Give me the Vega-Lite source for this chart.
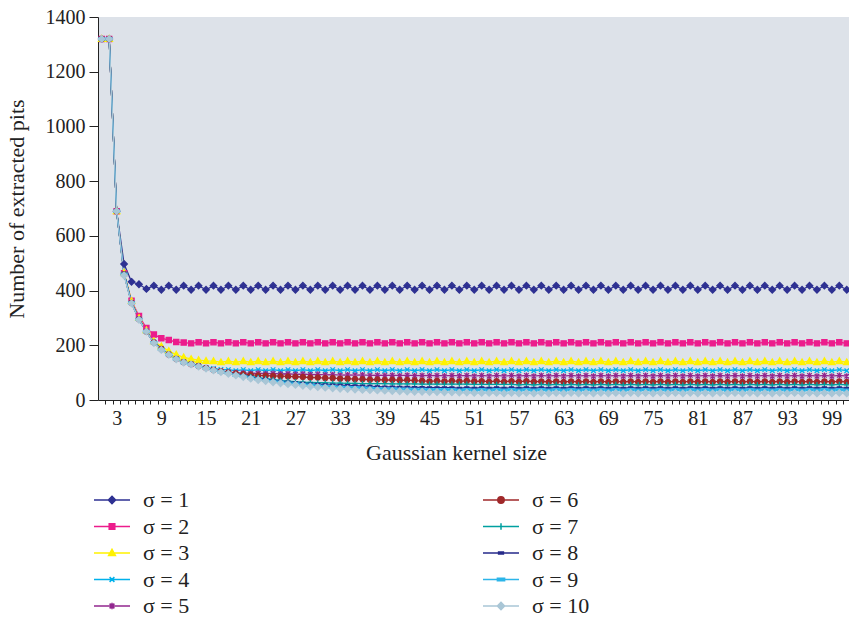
{
"$schema": "https://vega.github.io/schema/vega-lite/v6.json",
"width": 751,
"height": 383,
"autosize": {"type": "none"},
"padding": {"left": 98, "top": 17, "right": 0, "bottom": 218},
"background": "white",
"config": {
  "view": {"stroke": null, "fill": "#dde2e9"},
  "font": "Liberation Serif",
  "axis": {"labelFont": "Liberation Serif", "titleFont": "Liberation Serif", "labelColor": "#222", "titleColor": "#222", "titleFontWeight": "normal", "domainColor": "#222", "tickColor": "#222", "grid": false}
},
"data": {"values": [
{"k":1,"s":1,"n":1320},{"k":2,"s":1,"n":1320},{"k":3,"s":1,"n":690},{"k":4,"s":1,"n":497},{"k":5,"s":1,"n":432},{"k":6,"s":1,"n":423},{"k":7,"s":1,"n":406},{"k":8,"s":1,"n":418},{"k":9,"s":1,"n":403},{"k":10,"s":1,"n":418},
{"k":11,"s":1,"n":403},{"k":12,"s":1,"n":418},{"k":13,"s":1,"n":403},{"k":14,"s":1,"n":418},{"k":15,"s":1,"n":403},{"k":16,"s":1,"n":418},{"k":17,"s":1,"n":403},{"k":18,"s":1,"n":418},{"k":19,"s":1,"n":403},{"k":20,"s":1,"n":418},
{"k":21,"s":1,"n":403},{"k":22,"s":1,"n":418},{"k":23,"s":1,"n":403},{"k":24,"s":1,"n":418},{"k":25,"s":1,"n":403},{"k":26,"s":1,"n":418},{"k":27,"s":1,"n":403},{"k":28,"s":1,"n":418},{"k":29,"s":1,"n":403},{"k":30,"s":1,"n":418},
{"k":31,"s":1,"n":403},{"k":32,"s":1,"n":418},{"k":33,"s":1,"n":403},{"k":34,"s":1,"n":418},{"k":35,"s":1,"n":403},{"k":36,"s":1,"n":418},{"k":37,"s":1,"n":403},{"k":38,"s":1,"n":418},{"k":39,"s":1,"n":403},{"k":40,"s":1,"n":418},
{"k":41,"s":1,"n":403},{"k":42,"s":1,"n":418},{"k":43,"s":1,"n":403},{"k":44,"s":1,"n":418},{"k":45,"s":1,"n":403},{"k":46,"s":1,"n":418},{"k":47,"s":1,"n":403},{"k":48,"s":1,"n":418},{"k":49,"s":1,"n":403},{"k":50,"s":1,"n":418},
{"k":51,"s":1,"n":403},{"k":52,"s":1,"n":418},{"k":53,"s":1,"n":403},{"k":54,"s":1,"n":418},{"k":55,"s":1,"n":403},{"k":56,"s":1,"n":418},{"k":57,"s":1,"n":403},{"k":58,"s":1,"n":418},{"k":59,"s":1,"n":403},{"k":60,"s":1,"n":418},
{"k":61,"s":1,"n":403},{"k":62,"s":1,"n":418},{"k":63,"s":1,"n":403},{"k":64,"s":1,"n":418},{"k":65,"s":1,"n":403},{"k":66,"s":1,"n":418},{"k":67,"s":1,"n":403},{"k":68,"s":1,"n":418},{"k":69,"s":1,"n":403},{"k":70,"s":1,"n":418},
{"k":71,"s":1,"n":403},{"k":72,"s":1,"n":418},{"k":73,"s":1,"n":403},{"k":74,"s":1,"n":418},{"k":75,"s":1,"n":403},{"k":76,"s":1,"n":418},{"k":77,"s":1,"n":403},{"k":78,"s":1,"n":418},{"k":79,"s":1,"n":403},{"k":80,"s":1,"n":418},
{"k":81,"s":1,"n":403},{"k":82,"s":1,"n":418},{"k":83,"s":1,"n":403},{"k":84,"s":1,"n":418},{"k":85,"s":1,"n":403},{"k":86,"s":1,"n":418},{"k":87,"s":1,"n":403},{"k":88,"s":1,"n":418},{"k":89,"s":1,"n":403},{"k":90,"s":1,"n":418},
{"k":91,"s":1,"n":403},{"k":92,"s":1,"n":418},{"k":93,"s":1,"n":403},{"k":94,"s":1,"n":418},{"k":95,"s":1,"n":403},{"k":96,"s":1,"n":418},{"k":97,"s":1,"n":403},{"k":98,"s":1,"n":418},{"k":99,"s":1,"n":403},{"k":100,"s":1,"n":418},{"k":101,"s":1,"n":403},

{"k":1,"s":2,"n":1320},{"k":2,"s":2,"n":1320},{"k":3,"s":2,"n":690},{"k":4,"s":2,"n":463},{"k":5,"s":2,"n":363},{"k":6,"s":2,"n":307},{"k":7,"s":2,"n":263},{"k":8,"s":2,"n":239},{"k":9,"s":2,"n":226},{"k":10,"s":2,"n":219},
{"k":11,"s":2,"n":212},{"k":12,"s":2,"n":210},{"k":13,"s":2,"n":207},{"k":14,"s":2,"n":211},{"k":15,"s":2,"n":207},{"k":16,"s":2,"n":211},{"k":17,"s":2,"n":207},{"k":18,"s":2,"n":211},{"k":19,"s":2,"n":207},{"k":20,"s":2,"n":211},
{"k":21,"s":2,"n":207},{"k":22,"s":2,"n":211},{"k":23,"s":2,"n":207},{"k":24,"s":2,"n":211},{"k":25,"s":2,"n":207},{"k":26,"s":2,"n":211},{"k":27,"s":2,"n":207},{"k":28,"s":2,"n":211},{"k":29,"s":2,"n":207},{"k":30,"s":2,"n":211},
{"k":31,"s":2,"n":207},{"k":32,"s":2,"n":211},{"k":33,"s":2,"n":207},{"k":34,"s":2,"n":211},{"k":35,"s":2,"n":207},{"k":36,"s":2,"n":211},{"k":37,"s":2,"n":207},{"k":38,"s":2,"n":211},{"k":39,"s":2,"n":207},{"k":40,"s":2,"n":211},
{"k":41,"s":2,"n":207},{"k":42,"s":2,"n":211},{"k":43,"s":2,"n":207},{"k":44,"s":2,"n":211},{"k":45,"s":2,"n":207},{"k":46,"s":2,"n":211},{"k":47,"s":2,"n":207},{"k":48,"s":2,"n":211},{"k":49,"s":2,"n":207},{"k":50,"s":2,"n":211},
{"k":51,"s":2,"n":207},{"k":52,"s":2,"n":211},{"k":53,"s":2,"n":207},{"k":54,"s":2,"n":211},{"k":55,"s":2,"n":207},{"k":56,"s":2,"n":211},{"k":57,"s":2,"n":207},{"k":58,"s":2,"n":211},{"k":59,"s":2,"n":207},{"k":60,"s":2,"n":211},
{"k":61,"s":2,"n":207},{"k":62,"s":2,"n":211},{"k":63,"s":2,"n":207},{"k":64,"s":2,"n":211},{"k":65,"s":2,"n":207},{"k":66,"s":2,"n":211},{"k":67,"s":2,"n":207},{"k":68,"s":2,"n":211},{"k":69,"s":2,"n":207},{"k":70,"s":2,"n":211},
{"k":71,"s":2,"n":207},{"k":72,"s":2,"n":211},{"k":73,"s":2,"n":207},{"k":74,"s":2,"n":211},{"k":75,"s":2,"n":207},{"k":76,"s":2,"n":211},{"k":77,"s":2,"n":207},{"k":78,"s":2,"n":211},{"k":79,"s":2,"n":207},{"k":80,"s":2,"n":211},
{"k":81,"s":2,"n":207},{"k":82,"s":2,"n":211},{"k":83,"s":2,"n":207},{"k":84,"s":2,"n":211},{"k":85,"s":2,"n":207},{"k":86,"s":2,"n":211},{"k":87,"s":2,"n":207},{"k":88,"s":2,"n":211},{"k":89,"s":2,"n":207},{"k":90,"s":2,"n":211},
{"k":91,"s":2,"n":207},{"k":92,"s":2,"n":211},{"k":93,"s":2,"n":207},{"k":94,"s":2,"n":211},{"k":95,"s":2,"n":207},{"k":96,"s":2,"n":211},{"k":97,"s":2,"n":207},{"k":98,"s":2,"n":211},{"k":99,"s":2,"n":207},{"k":100,"s":2,"n":211},{"k":101,"s":2,"n":207},

{"k":1,"s":3,"n":1320},{"k":2,"s":3,"n":1320},{"k":3,"s":3,"n":690},{"k":4,"s":3,"n":465},{"k":5,"s":3,"n":362},{"k":6,"s":3,"n":300},{"k":7,"s":3,"n":255},{"k":8,"s":3,"n":215},{"k":9,"s":3,"n":196},{"k":10,"s":3,"n":179},
{"k":11,"s":3,"n":166},{"k":12,"s":3,"n":156},{"k":13,"s":3,"n":150},{"k":14,"s":3,"n":146},{"k":15,"s":3,"n":143},{"k":16,"s":3,"n":142},{"k":17,"s":3,"n":138},{"k":18,"s":3,"n":142},{"k":19,"s":3,"n":138},{"k":20,"s":3,"n":142},
{"k":21,"s":3,"n":138},{"k":22,"s":3,"n":142},{"k":23,"s":3,"n":138},{"k":24,"s":3,"n":142},{"k":25,"s":3,"n":138},{"k":26,"s":3,"n":142},{"k":27,"s":3,"n":138},{"k":28,"s":3,"n":142},{"k":29,"s":3,"n":138},{"k":30,"s":3,"n":142},
{"k":31,"s":3,"n":138},{"k":32,"s":3,"n":142},{"k":33,"s":3,"n":138},{"k":34,"s":3,"n":142},{"k":35,"s":3,"n":138},{"k":36,"s":3,"n":142},{"k":37,"s":3,"n":138},{"k":38,"s":3,"n":142},{"k":39,"s":3,"n":138},{"k":40,"s":3,"n":142},
{"k":41,"s":3,"n":138},{"k":42,"s":3,"n":142},{"k":43,"s":3,"n":138},{"k":44,"s":3,"n":142},{"k":45,"s":3,"n":138},{"k":46,"s":3,"n":142},{"k":47,"s":3,"n":138},{"k":48,"s":3,"n":142},{"k":49,"s":3,"n":138},{"k":50,"s":3,"n":142},
{"k":51,"s":3,"n":138},{"k":52,"s":3,"n":142},{"k":53,"s":3,"n":138},{"k":54,"s":3,"n":142},{"k":55,"s":3,"n":138},{"k":56,"s":3,"n":142},{"k":57,"s":3,"n":138},{"k":58,"s":3,"n":142},{"k":59,"s":3,"n":138},{"k":60,"s":3,"n":142},
{"k":61,"s":3,"n":138},{"k":62,"s":3,"n":142},{"k":63,"s":3,"n":138},{"k":64,"s":3,"n":142},{"k":65,"s":3,"n":138},{"k":66,"s":3,"n":142},{"k":67,"s":3,"n":138},{"k":68,"s":3,"n":142},{"k":69,"s":3,"n":138},{"k":70,"s":3,"n":142},
{"k":71,"s":3,"n":138},{"k":72,"s":3,"n":142},{"k":73,"s":3,"n":138},{"k":74,"s":3,"n":142},{"k":75,"s":3,"n":138},{"k":76,"s":3,"n":142},{"k":77,"s":3,"n":138},{"k":78,"s":3,"n":142},{"k":79,"s":3,"n":138},{"k":80,"s":3,"n":142},
{"k":81,"s":3,"n":138},{"k":82,"s":3,"n":142},{"k":83,"s":3,"n":138},{"k":84,"s":3,"n":142},{"k":85,"s":3,"n":138},{"k":86,"s":3,"n":142},{"k":87,"s":3,"n":138},{"k":88,"s":3,"n":142},{"k":89,"s":3,"n":138},{"k":90,"s":3,"n":142},
{"k":91,"s":3,"n":138},{"k":92,"s":3,"n":142},{"k":93,"s":3,"n":138},{"k":94,"s":3,"n":142},{"k":95,"s":3,"n":138},{"k":96,"s":3,"n":142},{"k":97,"s":3,"n":138},{"k":98,"s":3,"n":142},{"k":99,"s":3,"n":138},{"k":100,"s":3,"n":142},{"k":101,"s":3,"n":138},

{"k":1,"s":4,"n":1320},{"k":2,"s":4,"n":1320},{"k":3,"s":4,"n":690},{"k":4,"s":4,"n":462},{"k":5,"s":4,"n":357},{"k":6,"s":4,"n":297},{"k":7,"s":4,"n":252},{"k":8,"s":4,"n":212},{"k":9,"s":4,"n":188},{"k":10,"s":4,"n":168},
{"k":11,"s":4,"n":152},{"k":12,"s":4,"n":140},{"k":13,"s":4,"n":132},{"k":14,"s":4,"n":125},{"k":15,"s":4,"n":119},{"k":16,"s":4,"n":115},{"k":17,"s":4,"n":112},{"k":18,"s":4,"n":111},{"k":19,"s":4,"n":107},{"k":20,"s":4,"n":111},
{"k":21,"s":4,"n":107},{"k":22,"s":4,"n":111},{"k":23,"s":4,"n":107},{"k":24,"s":4,"n":111},{"k":25,"s":4,"n":107},{"k":26,"s":4,"n":111},{"k":27,"s":4,"n":107},{"k":28,"s":4,"n":111},{"k":29,"s":4,"n":107},{"k":30,"s":4,"n":111},
{"k":31,"s":4,"n":107},{"k":32,"s":4,"n":111},{"k":33,"s":4,"n":107},{"k":34,"s":4,"n":111},{"k":35,"s":4,"n":107},{"k":36,"s":4,"n":111},{"k":37,"s":4,"n":107},{"k":38,"s":4,"n":111},{"k":39,"s":4,"n":107},{"k":40,"s":4,"n":111},
{"k":41,"s":4,"n":107},{"k":42,"s":4,"n":111},{"k":43,"s":4,"n":107},{"k":44,"s":4,"n":111},{"k":45,"s":4,"n":107},{"k":46,"s":4,"n":111},{"k":47,"s":4,"n":107},{"k":48,"s":4,"n":111},{"k":49,"s":4,"n":107},{"k":50,"s":4,"n":111},
{"k":51,"s":4,"n":107},{"k":52,"s":4,"n":111},{"k":53,"s":4,"n":107},{"k":54,"s":4,"n":111},{"k":55,"s":4,"n":107},{"k":56,"s":4,"n":111},{"k":57,"s":4,"n":107},{"k":58,"s":4,"n":111},{"k":59,"s":4,"n":107},{"k":60,"s":4,"n":111},
{"k":61,"s":4,"n":107},{"k":62,"s":4,"n":111},{"k":63,"s":4,"n":107},{"k":64,"s":4,"n":111},{"k":65,"s":4,"n":107},{"k":66,"s":4,"n":111},{"k":67,"s":4,"n":107},{"k":68,"s":4,"n":111},{"k":69,"s":4,"n":107},{"k":70,"s":4,"n":111},
{"k":71,"s":4,"n":107},{"k":72,"s":4,"n":111},{"k":73,"s":4,"n":107},{"k":74,"s":4,"n":111},{"k":75,"s":4,"n":107},{"k":76,"s":4,"n":111},{"k":77,"s":4,"n":107},{"k":78,"s":4,"n":111},{"k":79,"s":4,"n":107},{"k":80,"s":4,"n":111},
{"k":81,"s":4,"n":107},{"k":82,"s":4,"n":111},{"k":83,"s":4,"n":107},{"k":84,"s":4,"n":111},{"k":85,"s":4,"n":107},{"k":86,"s":4,"n":111},{"k":87,"s":4,"n":107},{"k":88,"s":4,"n":111},{"k":89,"s":4,"n":107},{"k":90,"s":4,"n":111},
{"k":91,"s":4,"n":107},{"k":92,"s":4,"n":111},{"k":93,"s":4,"n":107},{"k":94,"s":4,"n":111},{"k":95,"s":4,"n":107},{"k":96,"s":4,"n":111},{"k":97,"s":4,"n":107},{"k":98,"s":4,"n":111},{"k":99,"s":4,"n":107},{"k":100,"s":4,"n":111},{"k":101,"s":4,"n":107},

{"k":1,"s":5,"n":1320},{"k":2,"s":5,"n":1320},{"k":3,"s":5,"n":690},{"k":4,"s":5,"n":461},{"k":5,"s":5,"n":356},{"k":6,"s":5,"n":296},{"k":7,"s":5,"n":251},{"k":8,"s":5,"n":211},{"k":9,"s":5,"n":187},{"k":10,"s":5,"n":167},
{"k":11,"s":5,"n":151},{"k":12,"s":5,"n":139},{"k":13,"s":5,"n":131},{"k":14,"s":5,"n":124},{"k":15,"s":5,"n":117},{"k":16,"s":5,"n":111},{"k":17,"s":5,"n":106},{"k":18,"s":5,"n":102},{"k":19,"s":5,"n":100},{"k":20,"s":5,"n":99},
{"k":21,"s":5,"n":97},{"k":22,"s":5,"n":98},{"k":23,"s":5,"n":96},{"k":24,"s":5,"n":97},{"k":25,"s":5,"n":95},{"k":26,"s":5,"n":96},{"k":27,"s":5,"n":94},{"k":28,"s":5,"n":95},{"k":29,"s":5,"n":93},{"k":30,"s":5,"n":94},
{"k":31,"s":5,"n":92},{"k":32,"s":5,"n":93},{"k":33,"s":5,"n":91},{"k":34,"s":5,"n":92},{"k":35,"s":5,"n":91},{"k":36,"s":5,"n":92},{"k":37,"s":5,"n":90},{"k":38,"s":5,"n":91},{"k":39,"s":5,"n":90},{"k":40,"s":5,"n":91},
{"k":41,"s":5,"n":89},{"k":42,"s":5,"n":91},{"k":43,"s":5,"n":89},{"k":44,"s":5,"n":90},{"k":45,"s":5,"n":89},{"k":46,"s":5,"n":90},{"k":47,"s":5,"n":88},{"k":48,"s":5,"n":90},{"k":49,"s":5,"n":88},{"k":50,"s":5,"n":90},
{"k":51,"s":5,"n":87},{"k":52,"s":5,"n":90},{"k":53,"s":5,"n":87},{"k":54,"s":5,"n":90},{"k":55,"s":5,"n":87},{"k":56,"s":5,"n":90},{"k":57,"s":5,"n":87},{"k":58,"s":5,"n":90},{"k":59,"s":5,"n":87},{"k":60,"s":5,"n":90},
{"k":61,"s":5,"n":87},{"k":62,"s":5,"n":90},{"k":63,"s":5,"n":87},{"k":64,"s":5,"n":90},{"k":65,"s":5,"n":87},{"k":66,"s":5,"n":90},{"k":67,"s":5,"n":87},{"k":68,"s":5,"n":90},{"k":69,"s":5,"n":87},{"k":70,"s":5,"n":90},
{"k":71,"s":5,"n":87},{"k":72,"s":5,"n":90},{"k":73,"s":5,"n":87},{"k":74,"s":5,"n":90},{"k":75,"s":5,"n":87},{"k":76,"s":5,"n":90},{"k":77,"s":5,"n":87},{"k":78,"s":5,"n":90},{"k":79,"s":5,"n":87},{"k":80,"s":5,"n":90},
{"k":81,"s":5,"n":87},{"k":82,"s":5,"n":90},{"k":83,"s":5,"n":87},{"k":84,"s":5,"n":90},{"k":85,"s":5,"n":87},{"k":86,"s":5,"n":90},{"k":87,"s":5,"n":87},{"k":88,"s":5,"n":90},{"k":89,"s":5,"n":87},{"k":90,"s":5,"n":90},
{"k":91,"s":5,"n":87},{"k":92,"s":5,"n":90},{"k":93,"s":5,"n":87},{"k":94,"s":5,"n":90},{"k":95,"s":5,"n":87},{"k":96,"s":5,"n":90},{"k":97,"s":5,"n":87},{"k":98,"s":5,"n":90},{"k":99,"s":5,"n":87},{"k":100,"s":5,"n":90},{"k":101,"s":5,"n":87},

{"k":1,"s":6,"n":1320},{"k":2,"s":6,"n":1320},{"k":3,"s":6,"n":690},{"k":4,"s":6,"n":460},{"k":5,"s":6,"n":355},{"k":6,"s":6,"n":295},{"k":7,"s":6,"n":250},{"k":8,"s":6,"n":210},{"k":9,"s":6,"n":186},{"k":10,"s":6,"n":166},
{"k":11,"s":6,"n":150},{"k":12,"s":6,"n":138},{"k":13,"s":6,"n":131},{"k":14,"s":6,"n":124},{"k":15,"s":6,"n":117},{"k":16,"s":6,"n":110},{"k":17,"s":6,"n":105},{"k":18,"s":6,"n":100},{"k":19,"s":6,"n":97},{"k":20,"s":6,"n":94},
{"k":21,"s":6,"n":92},{"k":22,"s":6,"n":90},{"k":23,"s":6,"n":89},{"k":24,"s":6,"n":88},{"k":25,"s":6,"n":87},{"k":26,"s":6,"n":86},{"k":27,"s":6,"n":85},{"k":28,"s":6,"n":84},{"k":29,"s":6,"n":82},{"k":30,"s":6,"n":82},
{"k":31,"s":6,"n":80},{"k":32,"s":6,"n":80},{"k":33,"s":6,"n":78},{"k":34,"s":6,"n":78},{"k":35,"s":6,"n":76},{"k":36,"s":6,"n":76},{"k":37,"s":6,"n":74},{"k":38,"s":6,"n":75},{"k":39,"s":6,"n":73},{"k":40,"s":6,"n":74},
{"k":41,"s":6,"n":72},{"k":42,"s":6,"n":73},{"k":43,"s":6,"n":71},{"k":44,"s":6,"n":70},{"k":45,"s":6,"n":68},{"k":46,"s":6,"n":70},{"k":47,"s":6,"n":68},{"k":48,"s":6,"n":70},{"k":49,"s":6,"n":68},{"k":50,"s":6,"n":70},
{"k":51,"s":6,"n":68},{"k":52,"s":6,"n":69},{"k":53,"s":6,"n":67},{"k":54,"s":6,"n":69},{"k":55,"s":6,"n":67},{"k":56,"s":6,"n":69},{"k":57,"s":6,"n":67},{"k":58,"s":6,"n":69},{"k":59,"s":6,"n":67},{"k":60,"s":6,"n":68},
{"k":61,"s":6,"n":66},{"k":62,"s":6,"n":68},{"k":63,"s":6,"n":66},{"k":64,"s":6,"n":68},{"k":65,"s":6,"n":66},{"k":66,"s":6,"n":68},{"k":67,"s":6,"n":66},{"k":68,"s":6,"n":68},{"k":69,"s":6,"n":66},{"k":70,"s":6,"n":68},
{"k":71,"s":6,"n":66},{"k":72,"s":6,"n":68},{"k":73,"s":6,"n":66},{"k":74,"s":6,"n":68},{"k":75,"s":6,"n":66},{"k":76,"s":6,"n":68},{"k":77,"s":6,"n":66},{"k":78,"s":6,"n":68},{"k":79,"s":6,"n":66},{"k":80,"s":6,"n":68},
{"k":81,"s":6,"n":66},{"k":82,"s":6,"n":68},{"k":83,"s":6,"n":66},{"k":84,"s":6,"n":68},{"k":85,"s":6,"n":66},{"k":86,"s":6,"n":68},{"k":87,"s":6,"n":66},{"k":88,"s":6,"n":68},{"k":89,"s":6,"n":66},{"k":90,"s":6,"n":68},
{"k":91,"s":6,"n":66},{"k":92,"s":6,"n":68},{"k":93,"s":6,"n":66},{"k":94,"s":6,"n":68},{"k":95,"s":6,"n":66},{"k":96,"s":6,"n":68},{"k":97,"s":6,"n":66},{"k":98,"s":6,"n":68},{"k":99,"s":6,"n":66},{"k":100,"s":6,"n":68},{"k":101,"s":6,"n":66},

{"k":1,"s":7,"n":1320},{"k":2,"s":7,"n":1320},{"k":3,"s":7,"n":690},{"k":4,"s":7,"n":460},{"k":5,"s":7,"n":355},{"k":6,"s":7,"n":295},{"k":7,"s":7,"n":250},{"k":8,"s":7,"n":210},{"k":9,"s":7,"n":185},{"k":10,"s":7,"n":166},
{"k":11,"s":7,"n":150},{"k":12,"s":7,"n":138},{"k":13,"s":7,"n":131},{"k":14,"s":7,"n":123},{"k":15,"s":7,"n":116},{"k":16,"s":7,"n":110},{"k":17,"s":7,"n":104},{"k":18,"s":7,"n":99},{"k":19,"s":7,"n":94},{"k":20,"s":7,"n":90},
{"k":21,"s":7,"n":86},{"k":22,"s":7,"n":82},{"k":23,"s":7,"n":78},{"k":24,"s":7,"n":75},{"k":25,"s":7,"n":72},{"k":26,"s":7,"n":69},{"k":27,"s":7,"n":67},{"k":28,"s":7,"n":65},{"k":29,"s":7,"n":64},{"k":30,"s":7,"n":63},
{"k":31,"s":7,"n":63},{"k":32,"s":7,"n":62},{"k":33,"s":7,"n":62},{"k":34,"s":7,"n":61},{"k":35,"s":7,"n":61},{"k":36,"s":7,"n":60},{"k":37,"s":7,"n":60},{"k":38,"s":7,"n":60},{"k":39,"s":7,"n":60},{"k":40,"s":7,"n":59},
{"k":41,"s":7,"n":59},{"k":42,"s":7,"n":59},{"k":43,"s":7,"n":59},{"k":44,"s":7,"n":58},{"k":45,"s":7,"n":58},{"k":46,"s":7,"n":58},{"k":47,"s":7,"n":58},{"k":48,"s":7,"n":58},{"k":49,"s":7,"n":58},{"k":50,"s":7,"n":58},
{"k":51,"s":7,"n":57},{"k":52,"s":7,"n":57},{"k":53,"s":7,"n":57},{"k":54,"s":7,"n":57},{"k":55,"s":7,"n":57},{"k":56,"s":7,"n":57},{"k":57,"s":7,"n":55},{"k":58,"s":7,"n":57},{"k":59,"s":7,"n":55},{"k":60,"s":7,"n":57},
{"k":61,"s":7,"n":55},{"k":62,"s":7,"n":57},{"k":63,"s":7,"n":55},{"k":64,"s":7,"n":57},{"k":65,"s":7,"n":55},{"k":66,"s":7,"n":57},{"k":67,"s":7,"n":55},{"k":68,"s":7,"n":57},{"k":69,"s":7,"n":55},{"k":70,"s":7,"n":57},
{"k":71,"s":7,"n":55},{"k":72,"s":7,"n":57},{"k":73,"s":7,"n":55},{"k":74,"s":7,"n":57},{"k":75,"s":7,"n":55},{"k":76,"s":7,"n":57},{"k":77,"s":7,"n":55},{"k":78,"s":7,"n":57},{"k":79,"s":7,"n":55},{"k":80,"s":7,"n":57},
{"k":81,"s":7,"n":55},{"k":82,"s":7,"n":57},{"k":83,"s":7,"n":55},{"k":84,"s":7,"n":57},{"k":85,"s":7,"n":55},{"k":86,"s":7,"n":57},{"k":87,"s":7,"n":55},{"k":88,"s":7,"n":57},{"k":89,"s":7,"n":55},{"k":90,"s":7,"n":57},
{"k":91,"s":7,"n":55},{"k":92,"s":7,"n":57},{"k":93,"s":7,"n":55},{"k":94,"s":7,"n":57},{"k":95,"s":7,"n":55},{"k":96,"s":7,"n":57},{"k":97,"s":7,"n":55},{"k":98,"s":7,"n":57},{"k":99,"s":7,"n":55},{"k":100,"s":7,"n":57},{"k":101,"s":7,"n":55},

{"k":1,"s":8,"n":1320},{"k":2,"s":8,"n":1320},{"k":3,"s":8,"n":690},{"k":4,"s":8,"n":460},{"k":5,"s":8,"n":355},{"k":6,"s":8,"n":295},{"k":7,"s":8,"n":250},{"k":8,"s":8,"n":210},{"k":9,"s":8,"n":185},{"k":10,"s":8,"n":166},
{"k":11,"s":8,"n":150},{"k":12,"s":8,"n":138},{"k":13,"s":8,"n":130},{"k":14,"s":8,"n":123},{"k":15,"s":8,"n":116},{"k":16,"s":8,"n":109},{"k":17,"s":8,"n":103},{"k":18,"s":8,"n":98},{"k":19,"s":8,"n":92},{"k":20,"s":8,"n":88},
{"k":21,"s":8,"n":84},{"k":22,"s":8,"n":80},{"k":23,"s":8,"n":76},{"k":24,"s":8,"n":72},{"k":25,"s":8,"n":69},{"k":26,"s":8,"n":66},{"k":27,"s":8,"n":63},{"k":28,"s":8,"n":61},{"k":29,"s":8,"n":59},{"k":30,"s":8,"n":58},
{"k":31,"s":8,"n":56},{"k":32,"s":8,"n":55},{"k":33,"s":8,"n":54},{"k":34,"s":8,"n":53},{"k":35,"s":8,"n":52},{"k":36,"s":8,"n":51},{"k":37,"s":8,"n":50},{"k":38,"s":8,"n":49},{"k":39,"s":8,"n":48},{"k":40,"s":8,"n":48},
{"k":41,"s":8,"n":47},{"k":42,"s":8,"n":47},{"k":43,"s":8,"n":46},{"k":44,"s":8,"n":46},{"k":45,"s":8,"n":45},{"k":46,"s":8,"n":45},{"k":47,"s":8,"n":45},{"k":48,"s":8,"n":45},{"k":49,"s":8,"n":43},{"k":50,"s":8,"n":45},
{"k":51,"s":8,"n":43},{"k":52,"s":8,"n":45},{"k":53,"s":8,"n":43},{"k":54,"s":8,"n":45},{"k":55,"s":8,"n":43},{"k":56,"s":8,"n":45},{"k":57,"s":8,"n":43},{"k":58,"s":8,"n":45},{"k":59,"s":8,"n":43},{"k":60,"s":8,"n":45},
{"k":61,"s":8,"n":43},{"k":62,"s":8,"n":45},{"k":63,"s":8,"n":43},{"k":64,"s":8,"n":45},{"k":65,"s":8,"n":43},{"k":66,"s":8,"n":45},{"k":67,"s":8,"n":43},{"k":68,"s":8,"n":45},{"k":69,"s":8,"n":43},{"k":70,"s":8,"n":45},
{"k":71,"s":8,"n":43},{"k":72,"s":8,"n":45},{"k":73,"s":8,"n":43},{"k":74,"s":8,"n":45},{"k":75,"s":8,"n":43},{"k":76,"s":8,"n":45},{"k":77,"s":8,"n":43},{"k":78,"s":8,"n":45},{"k":79,"s":8,"n":43},{"k":80,"s":8,"n":45},
{"k":81,"s":8,"n":43},{"k":82,"s":8,"n":45},{"k":83,"s":8,"n":43},{"k":84,"s":8,"n":45},{"k":85,"s":8,"n":43},{"k":86,"s":8,"n":45},{"k":87,"s":8,"n":43},{"k":88,"s":8,"n":45},{"k":89,"s":8,"n":43},{"k":90,"s":8,"n":45},
{"k":91,"s":8,"n":43},{"k":92,"s":8,"n":45},{"k":93,"s":8,"n":43},{"k":94,"s":8,"n":45},{"k":95,"s":8,"n":43},{"k":96,"s":8,"n":45},{"k":97,"s":8,"n":43},{"k":98,"s":8,"n":45},{"k":99,"s":8,"n":43},{"k":100,"s":8,"n":45},{"k":101,"s":8,"n":43},

{"k":1,"s":9,"n":1320},{"k":2,"s":9,"n":1320},{"k":3,"s":9,"n":690},{"k":4,"s":9,"n":460},{"k":5,"s":9,"n":355},{"k":6,"s":9,"n":295},{"k":7,"s":9,"n":250},{"k":8,"s":9,"n":210},{"k":9,"s":9,"n":185},{"k":10,"s":9,"n":166},
{"k":11,"s":9,"n":150},{"k":12,"s":9,"n":137},{"k":13,"s":9,"n":130},{"k":14,"s":9,"n":123},{"k":15,"s":9,"n":116},{"k":16,"s":9,"n":109},{"k":17,"s":9,"n":103},{"k":18,"s":9,"n":97},{"k":19,"s":9,"n":91},{"k":20,"s":9,"n":86},
{"k":21,"s":9,"n":81},{"k":22,"s":9,"n":76},{"k":23,"s":9,"n":72},{"k":24,"s":9,"n":68},{"k":25,"s":9,"n":65},{"k":26,"s":9,"n":62},{"k":27,"s":9,"n":59},{"k":28,"s":9,"n":56},{"k":29,"s":9,"n":54},{"k":30,"s":9,"n":52},
{"k":31,"s":9,"n":50},{"k":32,"s":9,"n":49},{"k":33,"s":9,"n":47},{"k":34,"s":9,"n":46},{"k":35,"s":9,"n":45},{"k":36,"s":9,"n":44},{"k":37,"s":9,"n":43},{"k":38,"s":9,"n":42},{"k":39,"s":9,"n":41},{"k":40,"s":9,"n":41},
{"k":41,"s":9,"n":40},{"k":42,"s":9,"n":40},{"k":43,"s":9,"n":39},{"k":44,"s":9,"n":39},{"k":45,"s":9,"n":38},{"k":46,"s":9,"n":38},{"k":47,"s":9,"n":38},{"k":48,"s":9,"n":38},{"k":49,"s":9,"n":36},{"k":50,"s":9,"n":38},
{"k":51,"s":9,"n":36},{"k":52,"s":9,"n":38},{"k":53,"s":9,"n":36},{"k":54,"s":9,"n":38},{"k":55,"s":9,"n":36},{"k":56,"s":9,"n":38},{"k":57,"s":9,"n":36},{"k":58,"s":9,"n":38},{"k":59,"s":9,"n":36},{"k":60,"s":9,"n":38},
{"k":61,"s":9,"n":36},{"k":62,"s":9,"n":38},{"k":63,"s":9,"n":36},{"k":64,"s":9,"n":38},{"k":65,"s":9,"n":36},{"k":66,"s":9,"n":38},{"k":67,"s":9,"n":36},{"k":68,"s":9,"n":38},{"k":69,"s":9,"n":36},{"k":70,"s":9,"n":38},
{"k":71,"s":9,"n":36},{"k":72,"s":9,"n":38},{"k":73,"s":9,"n":36},{"k":74,"s":9,"n":38},{"k":75,"s":9,"n":36},{"k":76,"s":9,"n":38},{"k":77,"s":9,"n":36},{"k":78,"s":9,"n":38},{"k":79,"s":9,"n":36},{"k":80,"s":9,"n":38},
{"k":81,"s":9,"n":36},{"k":82,"s":9,"n":38},{"k":83,"s":9,"n":36},{"k":84,"s":9,"n":38},{"k":85,"s":9,"n":36},{"k":86,"s":9,"n":38},{"k":87,"s":9,"n":36},{"k":88,"s":9,"n":38},{"k":89,"s":9,"n":36},{"k":90,"s":9,"n":38},
{"k":91,"s":9,"n":36},{"k":92,"s":9,"n":38},{"k":93,"s":9,"n":36},{"k":94,"s":9,"n":38},{"k":95,"s":9,"n":36},{"k":96,"s":9,"n":38},{"k":97,"s":9,"n":36},{"k":98,"s":9,"n":38},{"k":99,"s":9,"n":36},{"k":100,"s":9,"n":38},{"k":101,"s":9,"n":36},

{"k":1,"s":10,"n":1320},{"k":2,"s":10,"n":1320},{"k":3,"s":10,"n":690},{"k":4,"s":10,"n":455},{"k":5,"s":10,"n":353},{"k":6,"s":10,"n":293},{"k":7,"s":10,"n":250},{"k":8,"s":10,"n":208},{"k":9,"s":10,"n":183},{"k":10,"s":10,"n":165},
{"k":11,"s":10,"n":149},{"k":12,"s":10,"n":137},{"k":13,"s":10,"n":130},{"k":14,"s":10,"n":122},{"k":15,"s":10,"n":115},{"k":16,"s":10,"n":108},{"k":17,"s":10,"n":102},{"k":18,"s":10,"n":96},{"k":19,"s":10,"n":90},{"k":20,"s":10,"n":84},
{"k":21,"s":10,"n":78},{"k":22,"s":10,"n":73},{"k":23,"s":10,"n":69},{"k":24,"s":10,"n":65},{"k":25,"s":10,"n":61},{"k":26,"s":10,"n":58},{"k":27,"s":10,"n":55},{"k":28,"s":10,"n":52},{"k":29,"s":10,"n":49},{"k":30,"s":10,"n":47},
{"k":31,"s":10,"n":45},{"k":32,"s":10,"n":43},{"k":33,"s":10,"n":41},{"k":34,"s":10,"n":40},{"k":35,"s":10,"n":38},{"k":36,"s":10,"n":37},{"k":37,"s":10,"n":36},{"k":38,"s":10,"n":35},{"k":39,"s":10,"n":34},{"k":40,"s":10,"n":33},
{"k":41,"s":10,"n":32},{"k":42,"s":10,"n":31},{"k":43,"s":10,"n":30},{"k":44,"s":10,"n":30},{"k":45,"s":10,"n":29},{"k":46,"s":10,"n":29},{"k":47,"s":10,"n":28},{"k":48,"s":10,"n":28},{"k":49,"s":10,"n":27},{"k":50,"s":10,"n":27},
{"k":51,"s":10,"n":26},{"k":52,"s":10,"n":26},{"k":53,"s":10,"n":26},{"k":54,"s":10,"n":26},{"k":55,"s":10,"n":24},{"k":56,"s":10,"n":26},{"k":57,"s":10,"n":24},{"k":58,"s":10,"n":26},{"k":59,"s":10,"n":24},{"k":60,"s":10,"n":26},
{"k":61,"s":10,"n":24},{"k":62,"s":10,"n":26},{"k":63,"s":10,"n":24},{"k":64,"s":10,"n":26},{"k":65,"s":10,"n":24},{"k":66,"s":10,"n":26},{"k":67,"s":10,"n":24},{"k":68,"s":10,"n":26},{"k":69,"s":10,"n":24},{"k":70,"s":10,"n":26},
{"k":71,"s":10,"n":24},{"k":72,"s":10,"n":26},{"k":73,"s":10,"n":24},{"k":74,"s":10,"n":26},{"k":75,"s":10,"n":24},{"k":76,"s":10,"n":26},{"k":77,"s":10,"n":24},{"k":78,"s":10,"n":26},{"k":79,"s":10,"n":24},{"k":80,"s":10,"n":26},
{"k":81,"s":10,"n":24},{"k":82,"s":10,"n":26},{"k":83,"s":10,"n":24},{"k":84,"s":10,"n":26},{"k":85,"s":10,"n":24},{"k":86,"s":10,"n":26},{"k":87,"s":10,"n":24},{"k":88,"s":10,"n":26},{"k":89,"s":10,"n":24},{"k":90,"s":10,"n":26},
{"k":91,"s":10,"n":24},{"k":92,"s":10,"n":26},{"k":93,"s":10,"n":24},{"k":94,"s":10,"n":26},{"k":95,"s":10,"n":24},{"k":96,"s":10,"n":26},{"k":97,"s":10,"n":24},{"k":98,"s":10,"n":26},{"k":99,"s":10,"n":24},{"k":100,"s":10,"n":26},{"k":101,"s":10,"n":24}
]},
"encoding": {
  "x": {"field": "k", "type": "quantitative",
        "scale": {"domain": [0.5, 101.3], "nice": false, "zero": false},
        "axis": {"values": [1,2,3,4,5,6,7,8,9,10,11,12,13,14,15,16,17,18,19,20,21,22,23,24,25,26,27,28,29,30,31,32,33,34,35,36,37,38,39,40,41,42,43,44,45,46,47,48,49,50,51,52,53,54,55,56,57,58,59,60,61,62,63,64,65,66,67,68,69,70,71,72,73,74,75,76,77,78,79,80,81,82,83,84,85,86,87,88,89,90,91,92,93,94,95,96,97,98,99,100,101],
                 "labelExpr": "(datum.value - 3) % 6 == 0 ? datum.value : ''",
                 "labelOverlap": false, "labelFlush": false, "labelBound": false,
                 "tickSize": 4, "tickOffset": 3.7, "labelOffset": -3.7,
                 "labelFontSize": 20, "labelPadding": 4, "labelAngle": 0,
                 "title": "Gaussian kernel size", "titleFontSize": 22, "titlePadding": 14, "titleX": 358}},
  "y": {"field": "n", "type": "quantitative",
        "scale": {"domain": [0, 1400], "nice": false},
        "axis": {"values": [0,200,400,600,800,1000,1200,1400], "format": "d", "tickSize": 9, "labelPadding": 4, "labelFontSize": 20,
                 "title": "Number of extracted pits", "titleFontSize": 22, "titlePadding": 17}}
},
"layer": [
  {"mark": {"type": "line", "strokeWidth": 1.3},
   "encoding": {
     "color": {"field": "s", "type": "nominal",
       "scale": {"domain": [1,2,3,4,5,6,7,8,9,10], "range": ["#2e3192","#ec1c8c","#fff200","#00b1eb","#92278f","#a0282a","#00a0a0","#262a8a","#2cb5e9","#a9c6d6"]},
       "legend": {"orient": "none", "legendX": 3, "legendY": 472, "columns": 2, "columnPadding": 290, "rowPadding": 4.5,
                  "padding": 0, "title": null, "symbolSize": 64, "symbolStrokeWidth": 1.5, "labelOffset": 20,
                  "labelFont": "Liberation Serif", "labelFontSize": 22, "labelColor": "#222",
                  "labelExpr": "'σ = ' + datum.label",
                  "encode": {"symbols": {"update": {
                     "shape": {"signal": "['M-4.5,0H4.5M0,-0.9L0.9,0L0,0.9L-0.9,0Z','M-4.5,0H4.5M-0.7,-0.7H0.7V0.7H-0.7Z','M-4.5,0H4.5M0,-0.9L0.85,0.65H-0.85Z','M-4.5,0H4.5M-0.6,-0.6L0.6,0.6M-0.6,0.6L0.6,-0.6','M-4.5,0H4.5M-0.6,-0.6L0.6,0.6M-0.6,0.6L0.6,-0.6M0,-0.8V0.8','M-4.5,0H4.5M0.8,0A0.8,0.8,0,1,1,-0.8,0A0.8,0.8,0,1,1,0.8,0Z','M-4.5,0H4.5M0,-0.8V0.8','M-4.5,0H4.5M-0.6,-0.25H0.6V0.25H-0.6Z','M-4.5,0H4.5M-0.9,-0.3H0.9V0.3H-0.9Z','M-4.5,0H4.5M0,-0.9L0.9,0L0,0.9L-0.9,0Z'][datum.value - 1]"},
                     "fill": {"scale": "color", "field": "value"},
                     "stroke": {"scale": "color", "field": "value"},
                     "strokeWidth": {"value": 1.5},
                     "opacity": {"value": 1}
                  }}}}}
   }},
  {"mark": {"type": "point", "filled": true, "size": 42, "strokeWidth": 1.3, "opacity": 1},
   "encoding": {
     "color": {"field": "s", "type": "nominal", "legend": null},
     "stroke": {"field": "s", "type": "nominal",
       "scale": {"domain": [10,9,8,7,6,5,4,3,2,1], "range": ["#a9c6d6","#2cb5e9","#262a8a","#00a0a0","#a0282a","#92278f","#00b1eb","#fff200","#ec1c8c","#2e3192"]},
       "legend": null},
     "shape": {"field": "s", "type": "nominal",
       "scale": {"domain": [10,9,8,7,6,5,4,3,2,1], "range": ["M0,-1L1,0L0,1L-1,0Z","M-0.9,-0.3H0.9V0.3H-0.9Z","M-0.6,-0.25H0.6V0.25H-0.6Z","M-0.8,0H0.8M0,-0.8V0.8","M0.8,0A0.8,0.8,0,1,1,-0.8,0A0.8,0.8,0,1,1,0.8,0Z","M-0.7,-0.7L0.7,0.7M-0.7,0.7L0.7,-0.7M0,-0.9V0.9","M-0.7,-0.7L0.7,0.7M-0.7,0.7L0.7,-0.7","M0,-1L1,0.75H-1Z","M-0.8,-0.8H0.8V0.8H-0.8Z","M0,-1L1,0L0,1L-1,0Z"]},
       "legend": null}
   }}
]
}
